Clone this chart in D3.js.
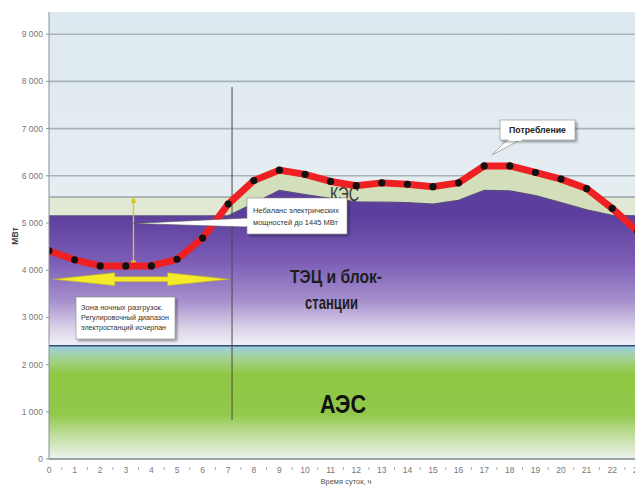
<!DOCTYPE html>
<html><head><meta charset="utf-8">
<script src="https://cdn.jsdelivr.net/npm/d3@7"></script>
<style>body{margin:0;background:#fff}svg{display:block}</style>
</head><body><svg id="c" width="635" height="487"></svg>
<script>
// ---- data ----
const hours = [0,1,2,3,4,5,6,7,8,9,10,11,12,13,14,15,16,17,18,19,20,21,22,23];
const consumption = [4410,4220,4090,4090,4090,4230,4680,5400,5900,6120,6030,5880,5790,5850,5820,5770,5850,6210,6210,6070,5930,5730,5310,4820];
const chpTop = [5150,5150,5150,5150,5150,5150,5150,5150,5420,5690,5600,5520,5450,5440,5430,5400,5480,5690,5680,5580,5430,5280,5160,5150];
const nuclearTop = [2400,2400,2400,2400,2400,2400,2400,2400,2400,2400,2400,2400,2400,2400,2400,2400,2400,2400,2400,2400,2400,2400,2400,2400];
const kesFloorLevel = 5550;
const yTicks = [0,1000,2000,3000,4000,5000,6000,7000,8000,9000];
const gridTicks = [6000,7000,8000,9000];
const xTickLabels = ["0","1","2","3","4","5","6","7","8","9","10","11","12","13","14","15","16","17","18","19","20","21","22","23"];
const imbalanceHour = 3.3, imbalanceLow = 4100;
const nightArrowFrom = 0.15, nightArrowTo = 7.05, nightArrowLevel = 3810;
const markerHour = 7.15;
const noteNight = ["Зона ночных разгрузок.","Регулировочный диапазон","электростанций исчерпан"];
const noteImbalance = ["Небаланс электрических","мощностей до 1445 МВт"];

// ---- scales ----
const svg = d3.select("#c");
const x = d3.scaleLinear().domain([0,24]).range([49, 49+25.6*24]);
const y = d3.scaleLinear().domain([0,9470]).range([459,12]);
const L = 49, R = 635, T = 12, B = 459;
const FONT = "'Liberation Sans', Arial, sans-serif";
const NARROW = "'Liberation Sans Narrow', 'Liberation Sans', Arial, sans-serif";

const defs = svg.append("defs");
defs.append("clipPath").attr("id","plot").append("rect").attr("x",L).attr("y",T).attr("width",R-L).attr("height",B-T);
function grad(id, stops, y1, y2){
  const gr = defs.append("linearGradient").attr("id",id).attr("gradientUnits","userSpaceOnUse")
    .attr("x1",0).attr("x2",0).attr("y1",y1).attr("y2",y2);
  stops.forEach(s=>gr.append("stop").attr("offset",s[0]).attr("stop-color",s[1]));
}
grad("bg", [[0,"#dde9f0"],[1,"#e6eef1"]], T, y(5000));
grad("purple", [[0,"#5c3f9d"],[0.35,"#7b5db6"],[0.65,"#a48dcc"],[0.88,"#ddd5ea"],[1,"#f1eff5"]], y(5150), y(2420));
grad("green", [[0,"#9ccde6"],[0.1,"#a5d39a"],[0.25,"#8fc843"],[0.6,"#90c84a"],[0.85,"#cfe4b5"],[1,"#edf3ee"]], y(2400), B);
const sh = defs.append("filter").attr("id","shadow").attr("x","-10%").attr("y","-10%").attr("width","130%").attr("height","140%");
sh.append("feDropShadow").attr("dx",2).attr("dy",2).attr("stdDeviation",1.2).attr("flood-color","#000").attr("flood-opacity",0.35);

const g = svg.append("g").attr("clip-path","url(#plot)");
g.append("rect").attr("x",L).attr("y",T).attr("width",R-L).attr("height",B-T).attr("fill","url(#bg)");

// grid
g.selectAll("line.grid").data(gridTicks).join("line").attr("class","grid")
  .attr("x1",L).attr("x2",R).attr("y1",d=>y(d)).attr("y2",d=>y(d))
  .attr("stroke","#a9b3ba").attr("stroke-width",1.6);

// flat KES band
g.append("rect").attr("x",L).attr("width",R-L).attr("y",y(kesFloorLevel)).attr("height",y(5150)-y(kesFloorLevel))
  .attr("fill","#e1e9d5");
g.append("line").attr("x1",L).attr("x2",R).attr("y1",y(kesFloorLevel)).attr("y2",y(kesFloorLevel))
  .attr("stroke","#9aa3a5").attr("stroke-width",1.4);

const data = hours.map((h,i)=>({h, c:consumption[i], p:chpTop[i], n:nuclearTop[i]}));
// KES area between chp top and consumption
g.append("path").datum(data)
  .attr("d", d3.area().x(d=>x(d.h)).y0(d=>y(d.p)).y1(d=>y(d.c)))
  .attr("fill","#d3deba");

// CHP purple
g.append("path").datum(data)
  .attr("d", d3.area().x(d=>x(d.h)).y0(d=>y(d.n)).y1(d=>y(d.p)))
  .attr("fill","url(#purple)");
g.append("path").datum(data)
  .attr("d", d3.line().x(d=>x(d.h)).y(d=>y(d.p)))
  .attr("fill","none").attr("stroke","#5a4a80").attr("stroke-width",1.2);

// nuclear green
g.append("path").datum(data)
  .attr("d", d3.area().x(d=>x(d.h)).y0(y(0)).y1(d=>y(d.n)))
  .attr("fill","url(#green)");
g.append("path").datum(data)
  .attr("d", d3.line().x(d=>x(d.h)).y(d=>y(d.n)))
  .attr("fill","none").attr("stroke","#2e4c74").attr("stroke-width",1.5);

// vertical marker line
g.append("line").attr("x1",x(markerHour)).attr("x2",x(markerHour)).attr("y1",87).attr("y2",420)
  .attr("stroke","#4a4a4a").attr("stroke-width",1);

// zone labels
g.append("text").attr("x",330).attr("y",201).attr("font-family",NARROW).attr("font-size",20)
  .attr("fill","#333").attr("textLength",29).attr("lengthAdjust","spacingAndGlyphs").text("КЭС");
const tl = g.append("text").attr("font-family",NARROW).attr("font-weight","bold").attr("font-size",19).attr("fill","#1e1e1e");
tl.append("tspan").attr("x",290).attr("y",283).attr("textLength",92).attr("lengthAdjust","spacingAndGlyphs").text("ТЭЦ и блок-");
tl.append("tspan").attr("x",305).attr("y",309).attr("textLength",53).attr("lengthAdjust","spacingAndGlyphs").text("станции");
g.append("text").attr("x",320).attr("y",413).attr("font-family",NARROW).attr("font-weight","bold").attr("font-size",25)
  .attr("fill","#111").attr("textLength",46).attr("lengthAdjust","spacingAndGlyphs").text("АЭС");

// yellow vertical double arrow
const ax = x(imbalanceHour), aTop = y(kesFloorLevel)-1, aBot = y(imbalanceLow)+2;
g.append("line").attr("x1",ax).attr("x2",ax).attr("y1",aTop+5).attr("y2",aBot-5).attr("stroke","#d8c81a").attr("stroke-width",1.3);
g.append("path").attr("d",`M${ax},${aTop} L${ax-2.8},${aTop+7} L${ax+2.8},${aTop+7}Z M${ax},${aBot} L${ax-2.8},${aBot-7} L${ax+2.8},${aBot-7}Z`)
  .attr("fill","#d8c81a");

// yellow horizontal double arrow
const hx1 = x(nightArrowFrom), hx2 = x(nightArrowTo), hy = y(nightArrowLevel);
const hl = 62, hh = 6.5, sw = 2.5;
g.append("path").attr("d",
  `M${hx1},${hy} L${hx1+hl},${hy-hh} L${hx1+hl},${hy-sw} L${hx2-hl},${hy-sw} L${hx2-hl},${hy-hh} L${hx2},${hy} L${hx2-hl},${hy+hh} L${hx2-hl},${hy+sw} L${hx1+hl},${hy+sw} L${hx1+hl},${hy+hh} Z`)
  .attr("fill","#f4ea2a").attr("stroke","#b8a830").attr("stroke-width",0.6);

// consumption line + dots
g.append("path").datum(data)
  .attr("d", d3.line().x(d=>x(d.h)).y(d=>y(d.c)))
  .attr("fill","none").attr("stroke","#ee2024").attr("stroke-width",7).attr("stroke-linejoin","round");
g.selectAll("circle.pt").data(data).join("circle").attr("class","pt")
  .attr("cx",d=>x(d.h)).attr("cy",d=>y(d.c)).attr("r",3.6).attr("fill","#111");

// callout: imbalance
const cb = g.append("g");
cb.append("path").attr("d",`M${ax},${y(4990)} L247,218 L247,227 Z`).attr("fill","#fff").attr("stroke","#555").attr("stroke-width",0.6);
cb.append("rect").attr("x",247).attr("y",198).attr("width",100).attr("height",36).attr("fill","#fff")
  .attr("stroke","#888").attr("stroke-width",0.6).attr("filter","url(#shadow)");
cb.append("rect").attr("x",246).attr("y",219).attr("width",2).attr("height",7).attr("fill","#fff");
const impLen = [86,85];
cb.selectAll("text").data(noteImbalance).join("text").attr("x",253).attr("y",(d,i)=>213+i*12)
  .attr("font-family",NARROW).attr("font-size",7.8).attr("fill","#333")
  .attr("textLength",(d,i)=>impLen[i]).attr("lengthAdjust","spacingAndGlyphs").text(d=>d);

// callout: night zone
const nb = g.append("g");
nb.append("rect").attr("x",76).attr("y",297).attr("width",99).attr("height",42).attr("fill","#fff")
  .attr("stroke","#888").attr("stroke-width",0.6).attr("filter","url(#shadow)");
const nightLen = [82,88,85];
nb.selectAll("text").data(noteNight).join("text").attr("x",81).attr("y",(d,i)=>310+i*10)
  .attr("font-family",NARROW).attr("font-size",7.4).attr("fill","#333")
  .attr("textLength",(d,i)=>nightLen[i]).attr("lengthAdjust","spacingAndGlyphs").text(d=>d);

// callout: consumption
const pb = g.append("g");
pb.append("path").attr("d",`M${x(17.3)},155 L508,139 L522,139 Z`).attr("fill","#fff").attr("stroke","#777").attr("stroke-width",0.6);
pb.append("rect").attr("x",500).attr("y",120).attr("width",75).attr("height",20).attr("fill","#fff")
  .attr("stroke","#888").attr("stroke-width",0.6).attr("filter","url(#shadow)");
pb.append("rect").attr("x",508.5).attr("y",138).attr("width",13).attr("height",3).attr("fill","#fff");
pb.append("text").attr("x",509).attr("y",133).attr("font-family",NARROW)
  .attr("font-weight","bold").attr("font-size",8.5).attr("fill","#222")
  .attr("textLength",57).attr("lengthAdjust","spacingAndGlyphs").text("Потребление");

// axes
svg.append("line").attr("x1",L).attr("x2",L).attr("y1",T).attr("y2",B).attr("stroke","#8a9095").attr("stroke-width",1);
svg.append("line").attr("x1",L).attr("x2",R).attr("y1",B).attr("y2",B).attr("stroke","#7d8489").attr("stroke-width",1.6);
svg.selectAll("text.yt").data(yTicks).join("text").attr("class","yt")
  .attr("x",43).attr("y",d=>y(d)+3).attr("text-anchor","end").attr("font-family",NARROW).attr("font-size",8.5)
  .attr("fill","#777").text(d=>d===0?"0":d3.format(",")(d).replace(","," "));
svg.selectAll("line.ytk").data(yTicks).join("line").attr("class","ytk")
  .attr("x1",L-3).attr("x2",L).attr("y1",d=>y(d)).attr("y2",d=>y(d)).attr("stroke","#999");
svg.selectAll("text.xt").data(xTickLabels).join("text").attr("class","xt")
  .attr("x",(d,i)=>x(hours[i])).attr("y",473).attr("text-anchor","middle").attr("font-family",NARROW).attr("font-size",8.5)
  .attr("fill","#777").text(d=>d);
svg.selectAll("line.xtk").data(hours).join("line").attr("class","xtk")
  .attr("x1",d=>x(d+0.5)).attr("x2",d=>x(d+0.5)).attr("y1",B+8).attr("y2",B+11).attr("stroke","#aaa");
svg.append("text").attr("x",346).attr("y",484).attr("text-anchor","middle").attr("font-family",NARROW).attr("font-size",7.5)
  .attr("fill","#555").text("Время суток, ч");
svg.append("text").attr("transform","translate(18,236) rotate(-90)").attr("text-anchor","middle").attr("font-family",FONT)
  .attr("font-weight","bold").attr("font-size",8.5).attr("fill","#444").text("МВт");
</script></body></html>
